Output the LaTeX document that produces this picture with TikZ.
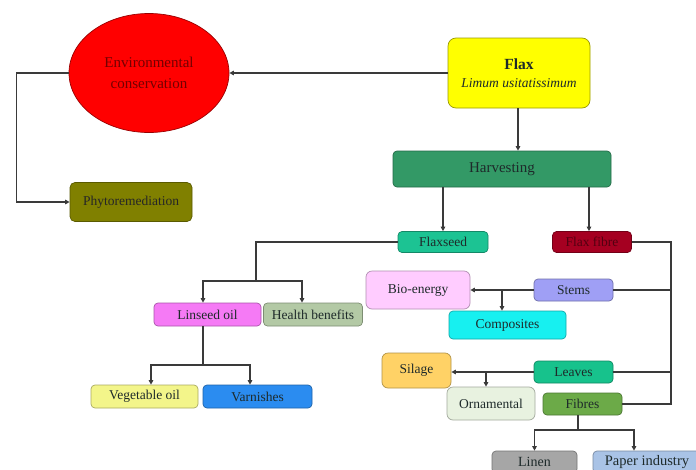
\documentclass[tikz,border=0pt]{standalone}
\usepackage{fontspec}
\setmainfont{Liberation Serif}
\usetikzlibrary{arrows.meta,shapes.geometric}
\definecolor{lnc}{HTML}{3A3A3A}
\definecolor{txt}{HTML}{1E2A2A}
\tikzset{
  box/.style={draw=#1!70!black, fill=#1, rounded corners=4pt, inner sep=0pt, line width=0.7pt, text=txt, font=\fontsize{13.5}{15}\selectfont},
  ln/.style={draw=lnc, line width=1.1pt},
  arr/.style={ln, -{Triangle[width=4.5pt,length=4.5pt]}},
}
\definecolor{cYel}{HTML}{FFFF00}
\definecolor{cOlive}{HTML}{808000}
\definecolor{cHarv}{HTML}{339966}
\definecolor{cSeed}{HTML}{1CC393}
\definecolor{cFib}{HTML}{A50021}
\definecolor{cLin}{HTML}{F57AF5}
\definecolor{cHealth}{HTML}{B3C9A5}
\definecolor{cVeg}{HTML}{F3F58A}
\definecolor{cVarn}{HTML}{2B8CF0}
\definecolor{cStem}{HTML}{9F9FF5}
\definecolor{cBio}{HTML}{FFCCFF}
\definecolor{cComp}{HTML}{17F0F0}
\definecolor{cLeaf}{HTML}{17C28C}
\definecolor{cSil}{HTML}{FFD266}
\definecolor{cOrn}{HTML}{E8F2E0}
\definecolor{cFibres}{HTML}{6CAA48}
\definecolor{cLinen}{HTML}{A6A6A6}
\definecolor{cPaper}{HTML}{A9C3E6}
\begin{document}
\begin{tikzpicture}[x=1pt,y=-1pt]
\useasboundingbox (0,0) rectangle (696,469);
\clip (0,0) rectangle (696,469);
\fill[white] (0,0) rectangle (696,469);
% nodes
\node[ellipse, draw=red!60!black, fill=red, line width=0.7pt, minimum width=160pt, minimum height=119pt, inner sep=0pt, text=red!45!black, align=center, font=\fontsize{15}{21}\selectfont] (env) at (149,73) {Environmental\\conservation};
\node[box=cYel, draw=cYel!60!black, minimum width=142pt, minimum height=70pt, align=center, rounded corners=8pt] (flax) at (519,73) {{\fontsize{15.5}{17}\selectfont\bfseries Flax}\\[3pt]\textit{Limum usitatissimum}};
\node[box=cOlive, minimum width=122pt, minimum height=39pt, rounded corners=5pt, text=black!85] (phyto) at (131,202) {Phytoremediation};
\node[box=cHarv, minimum width=218pt, minimum height=36pt, font=\fontsize{15}{17}\selectfont] (harv) at (502,169) {Harvesting};
\node[box=cSeed, minimum width=90pt, minimum height=21pt] (seed) at (443,242) {Flaxseed};
\node[box=cFib, minimum width=79pt, minimum height=21pt, text=cFib!50!black] (fibre) at (592,242) {Flax fibre};
\node[box=cLin, minimum width=107pt, minimum height=23pt] (lin) at (207.5,314.5) {Linseed oil};
\node[box=cHealth, minimum width=99pt, minimum height=23pt] (health) at (313,314.5) {Health benefits};
\node[box=cVeg, minimum width=107pt, minimum height=23pt] (veg) at (144.5,396.5) {Vegetable oil};
\node[box=cVarn, minimum width=109pt, minimum height=23pt] (varn) at (257.5,396.5) {Varnishes};
\node[box=cStem, minimum width=79pt, minimum height=22pt] (stems) at (573.5,290) {Stems};
\node[box=cBio, minimum width=104pt, minimum height=38pt, rounded corners=6pt] (bio) at (418,290) {Bio-energy};
\node[box=cComp, minimum width=117pt, minimum height=28pt] (comp) at (507.5,325) {Composites};
\node[box=cLeaf, minimum width=79pt, minimum height=22pt] (leaves) at (573.5,372) {Leaves};
\node[box=cSil, minimum width=69pt, minimum height=35pt, rounded corners=6pt] (silage) at (416.5,370.5) {Silage};
\node[box=cOrn, minimum width=88pt, minimum height=33pt, rounded corners=6pt] (orn) at (491,403.5) {Ornamental};
\node[box=cFibres, minimum width=79pt, minimum height=22pt] (fibres) at (582.5,404) {Fibres};
\node[box=cLinen, minimum width=85pt, minimum height=22pt, font=\fontsize{14}{16}\selectfont] (linen) at (534.5,462) {Linen};
\node[box=cPaper, minimum width=108pt, minimum height=22pt, font=\fontsize{14.5}{16}\selectfont] (paper) at (647,462) {Paper industry};
% connectors
\draw[arr] (flax.west) -- (env.east);
\draw[arr] (env.west) -- ++(-52,0) |- (phyto.west);
\draw[arr] ([xshift=-1pt]flax.south) -- ([xshift=-1pt]flax.south |- harv.north);
\draw[arr] (harv.south -| seed.north) -- (seed.north);
\draw[arr] ([xshift=-3pt]harv.south -| fibre.north) -- ([xshift=-3pt]fibre.north);
\coordinate (j1) at (256,281);
\draw[ln] (seed.west) -| (j1);
\draw[arr] (j1) -| ([xshift=-4.5pt]lin.north);
\draw[arr] (j1) -| ([xshift=-11pt]health.north);
\coordinate (j2) at (203,365);
\draw[ln] ([xshift=-4.5pt]lin.south) -- (j2);
\draw[arr] (j2) -| ([xshift=6.5pt]veg.north);
\draw[arr] (j2) -| ([xshift=-7.5pt]varn.north);
\coordinate (r1) at (671,242);
\draw[ln] (fibre.east) -- (r1) |- (fibres.east);
\draw[ln] (stems.east) -- (stems.east -| r1);
\draw[ln] (leaves.east) -- (leaves.east -| r1);
\draw[arr] (stems.west) -- (bio.east);
\draw[arr] ([xshift=-5.5pt]comp.north |- stems.west) -- ([xshift=-5.5pt]comp.north);
\draw[arr] (leaves.west) -- (leaves.west -| silage.east);
\draw[arr] ([xshift=-5pt]orn.north |- leaves.west) -- ([xshift=-5pt]orn.north);
\coordinate (j3) at (578,430);
\draw[ln] ([xshift=-4.5pt]fibres.south) -- (j3);
\draw[arr] (j3) -| (linen.north);
\draw[arr] (j3) -| ([xshift=-13pt]paper.north);
\end{tikzpicture}
\end{document}
